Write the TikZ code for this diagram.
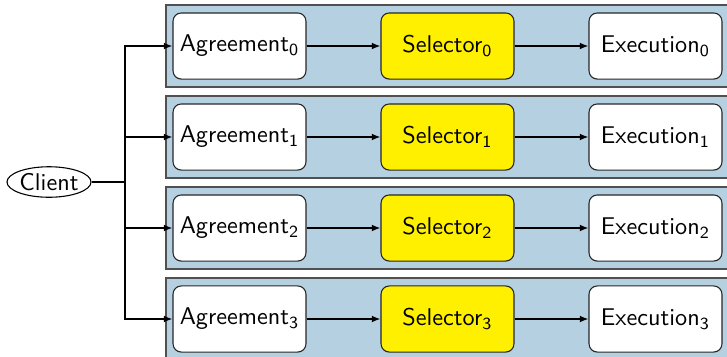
\documentclass[tikz,border=0pt]{standalone}
\usetikzlibrary{arrows.meta,shapes.geometric}
\definecolor{rowblue}{RGB}{180,208,225}
\definecolor{rowedge}{RGB}{80,80,80}
\definecolor{selyellow}{RGB}{255,240,0}
\begin{document}
\begin{tikzpicture}[x=0.413pt,y=-0.413pt,
  font=\sffamily,
  rowbox/.style={draw=rowedge,fill=rowblue,line width=0.5pt,minimum width=232.5pt,minimum height=33.9pt,inner sep=0pt},
  stagebox/.style={draw=black!85,fill=white,rounded corners=3.4pt,line width=0.45pt,minimum width=54.9pt,minimum height=27.3pt,inner sep=0pt},
  selbox/.style={stagebox,fill=selyellow},
  clientbox/.style={draw=black,ellipse,line width=0.45pt,minimum width=34.7pt,minimum height=12.6pt,inner sep=0pt},
  arr/.style={-{Latex[length=3.6pt,width=2.8pt]},line width=0.55pt},
  plain/.style={line width=0.55pt}]
\useasboundingbox (0,0) rectangle (727,356);
\node[clientbox] (client) at (49,182) {Client};
\coordinate (jt) at (125,182);
\draw[plain] (client.east) -- (jt);
\foreach \i/\y in {0/46,1/137,2/228,3/319}{
  \node[rowbox] (r\i) at (447.5,\y) {};
  \node[stagebox] (a\i) at (239.5,\y) {Agreement\textsubscript{\i}};
  \node[selbox] (s\i) at (447.5,\y) {Selector\textsubscript{\i}};
  \node[stagebox] (e\i) at (655.5,\y) {Execution\textsubscript{\i}};
  \draw[arr] (a\i) -- (s\i);
  \draw[arr] (s\i) -- (e\i);
  \draw[arr] (jt) |- (a\i.west);
}
\end{tikzpicture}
\end{document}
